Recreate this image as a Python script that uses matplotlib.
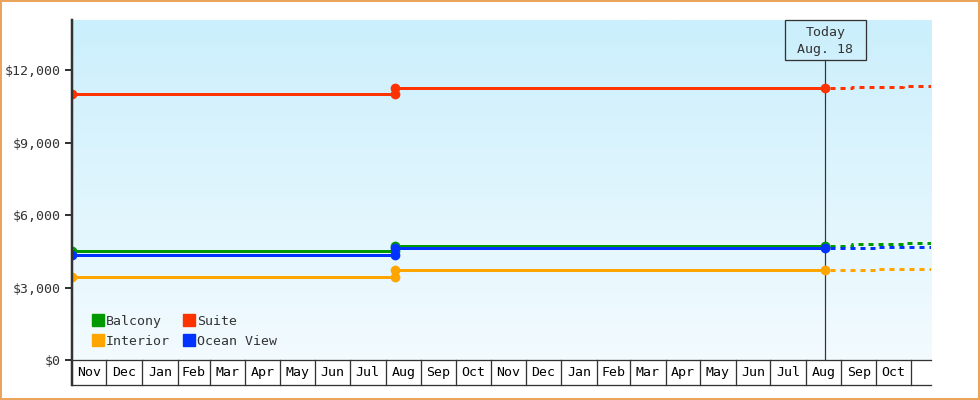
import matplotlib
matplotlib.use('Agg')
import matplotlib.pyplot as plt
import matplotlib.dates as mdates
import matplotlib.transforms as mtrans
from matplotlib.patches import Rectangle
from matplotlib.lines import Line2D
from matplotlib.colors import LinearSegmentedColormap
import numpy as np
from datetime import date

plt.rcParams['font.family'] = ['DejaVu Sans Mono', 'DejaVu Sans']
INK = '#333333'
PX = 0.72  # one pixel in points at dpi 100

# ---- data ----
start = date(2022, 11, 1)
end = date(2024, 11, 18)
today = date(2024, 8, 18)
month_labels = ['Nov', 'Dec', 'Jan', 'Feb', 'Mar', 'Apr', 'May', 'Jun', 'Jul', 'Aug', 'Sep', 'Oct',
                'Nov', 'Dec', 'Jan', 'Feb', 'Mar', 'Apr', 'May', 'Jun', 'Jul', 'Aug', 'Sep', 'Oct']

price_dates = [date(2022, 11, 1), date(2023, 8, 9), today]
balcony = [4500, 4730]
suite = [11000, 11250]
interior = [3420, 3710]
ocean_view = [4330, 4620]

forecast_dates = [today, date(2024, 9, 10), date(2024, 10, 1), date(2024, 10, 25), end]
balcony_fc = [4730, 4790, 4790, 4830, 4830]
suite_fc = [11250, 11290, 11290, 11330, 11330]
interior_fc = [3710, 3710, 3755, 3755, 3755]
ocean_view_fc = [4620, 4620, 4665, 4665, 4665]

series = [('Balcony', balcony, balcony_fc, '#009900'),
          ('Interior', interior, interior_fc, '#ffa500'),
          ('Suite', suite, suite_fc, '#ff3300'),
          ('Ocean View', ocean_view, ocean_view_fc, '#0033ff')]

yticks = [0, 3000, 6000, 9000, 12000]

# ---- figure ----
fig = plt.figure(figsize=(9.8, 4), dpi=100)
ax = fig.add_axes([72/980, 40/400, 859/980, 340/400])
for s in ax.spines.values():
    s.set_visible(False)

x0, x1 = mdates.date2num(start), mdates.date2num(end)

# background gradient
grad = LinearSegmentedColormap.from_list('bg', ['#f3fbff', '#cbeffc'])
ax.imshow(np.linspace(0, 1, 256).reshape(-1, 1)[::-1], cmap=grad, aspect='auto',
          extent=[0, 1, 0, 1], transform=ax.transAxes, zorder=0)
ax.set_xlim(x0, x1)
ax.set_ylim(0, 14070)

# history lines (steps) and forecast (dashed)
for name, hist, fc, col in series:
    d = [mdates.date2num(v) for v in price_dates]
    xs = [d[0], d[1], d[1], d[2]]
    ys = [hist[0], hist[0], hist[1], hist[1]]
    ax.plot(xs, ys, color=col, lw=3*PX, marker='o', markersize=6, zorder=3)
    ax.step([mdates.date2num(v) for v in forecast_dates], fc, where='post',
            color=col, lw=3*PX, linestyle=(5/3, (5/3, 5/3)), zorder=3)

# y axis
ax.set_yticks(yticks)
ax.set_yticklabels(['${:,}'.format(v) for v in yticks])
ax.tick_params(axis='y', length=7*PX, width=2*PX, color=INK, labelcolor=INK,
               labelsize=9.5, pad=3)
ax.set_xticks([])

trans = mtrans.blended_transform_factory(ax.transData, ax.transAxes)
cell_h = 25/340

# month cells below the axis
bounds = []
for i in range(len(month_labels) + 1):
    bounds.append(mdates.date2num(date(2022 + (10 + i)//12, (10 + i) % 12 + 1, 1)))
for b in bounds[1:]:
    ax.plot([b, b], [0, -cell_h], transform=trans, clip_on=False, color=INK, lw=1.3*PX)
for lab, a, b in zip(month_labels, bounds[:-1], bounds[1:]):
    ax.text((a + b)/2, -cell_h/2, lab, transform=trans, ha='center', va='center',
            fontsize=9.5, color='black')
ax.plot([x0, x1], [0, 0], transform=trans, clip_on=False, color=INK, lw=1.3*PX)
ax.plot([x0, x1], [-cell_h, -cell_h], transform=trans, clip_on=False, color=INK, lw=1.3*PX)
ax.plot([x0, x0], [-cell_h, 1], transform=trans, clip_on=False, color=INK, lw=2.5*PX, zorder=5)

# today marker
t = mdates.date2num(today)
ax.plot([t, t], [0, 300/340], transform=trans, color=INK, lw=1.2*PX, zorder=2)
box_w = 81/1.1497
ax.add_patch(Rectangle((t - box_w/2, 300/340), box_w, 40/340, transform=trans,
                       fill=False, edgecolor=INK, lw=1.3*PX, clip_on=False, zorder=4))
ax.text(t, 1 - 21/340, 'Today\nAug. 18', transform=trans, ha='center', va='center',
        fontsize=9.5, color=INK, linespacing=1.4)

# legend
handles = [Line2D([], [], marker='s', ls='none', color=c, markersize=8) for _, _, _, c in series]
ax.legend(handles, [n for n, _, _, _ in series], ncol=2, loc='upper left',
          bbox_to_anchor=(21/859, 45/340), frameon=False, fontsize=9.5,
          handlelength=0.8, handletextpad=0.2, columnspacing=1.05, labelspacing=0.5,
          borderpad=0, borderaxespad=0, labelcolor=INK)

# outer border
fig.patches.append(Rectangle((1/980, 1/400), 978/980, 398/400, transform=fig.transFigure,
                             fill=False, edgecolor='#eaa45c', lw=2*PX))

fig.savefig('out.png', dpi=100)
